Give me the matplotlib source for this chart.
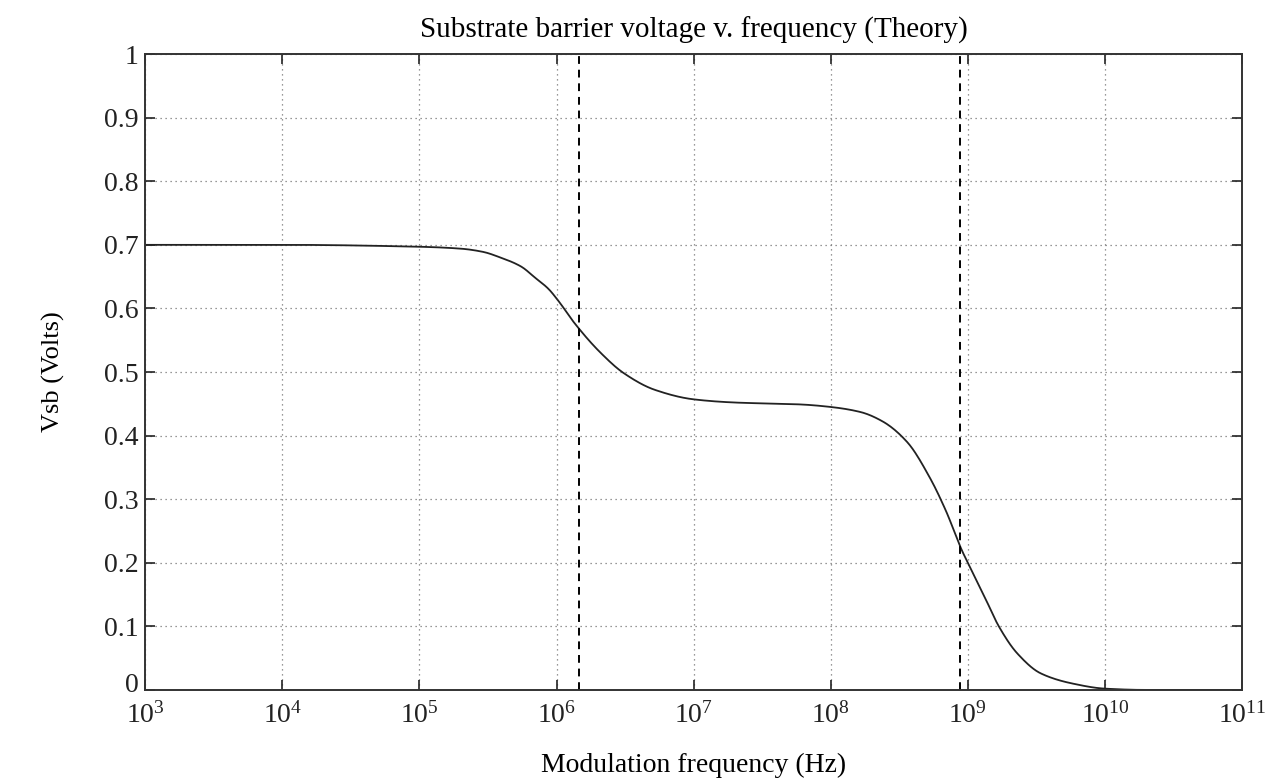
import matplotlib
matplotlib.use("Agg")
import matplotlib.pyplot as plt
import matplotlib.transforms as mtransforms
import numpy as np

plt.rcParams['font.family'] = ['Liberation Serif', 'DejaVu Serif']
plt.rcParams['mathtext.fontset'] = 'custom'
plt.rcParams['mathtext.rm'] = 'Liberation Serif'
plt.rcParams['mathtext.it'] = 'Liberation Serif:italic'

# theoretical Vsb curve (Hz, Volts)
freq = [1e3, 1e4, 1e5, 2e5, 2.9e5, 3.9e5, 5.5e5, 7e5, 8.7e5, 1.03e6, 1.35e6, 2.1e6,
        3.1e6, 5.2e6, 1e7, 2e7, 6e7, 1e8, 1.65e8, 2.4e8, 3.6e8, 5.3e8,
        6.9e8, 9.1e8, 1e9, 1.38e9, 1.68e9, 2.3e9, 3.4e9, 5.8e9, 1e10, 2e10, 1e11]
vsb = [0.700, 0.700, 0.697, 0.694, 0.689, 0.680, 0.666, 0.648, 0.631, 0.612, 0.577, 0.530,
       0.498, 0.472, 0.457, 0.452, 0.449, 0.445, 0.437, 0.422, 0.390, 0.333,
       0.282, 0.218, 0.200, 0.138, 0.100, 0.057, 0.026, 0.010, 0.002, 0.0, 0.0]

# corner frequencies marked with dashed lines
f_corner = [1.45e6, 8.7e8]

yticks = [0, 0.1, 0.2, 0.3, 0.4, 0.5, 0.6, 0.7, 0.8, 0.9, 1]
ytick_labels = ['0', '0.1', '0.2', '0.3', '0.4', '0.5', '0.6', '0.7', '0.8', '0.9', '1']
decades = [3, 4, 5, 6, 7, 8, 9, 10, 11]


def monotone_cubic(x, y, xn):
    # Fritsch-Carlson monotone Hermite spline
    x = np.asarray(x, float)
    y = np.asarray(y, float)
    h = np.diff(x)
    d = np.diff(y) / h
    m = np.zeros_like(y)
    m[0], m[-1] = d[0], d[-1]
    for i in range(1, len(x) - 1):
        if d[i - 1] * d[i] > 0:
            w1 = 2 * h[i] + h[i - 1]
            w2 = h[i] + 2 * h[i - 1]
            m[i] = (w1 + w2) / (w1 / d[i - 1] + w2 / d[i])
    k = np.clip(np.searchsorted(x, xn) - 1, 0, len(x) - 2)
    t = (xn - x[k]) / h[k]
    h00 = 2 * t**3 - 3 * t**2 + 1
    h10 = t**3 - 2 * t**2 + t
    h01 = -2 * t**3 + 3 * t**2
    h11 = t**3 - t**2
    return h00 * y[k] + h10 * h[k] * m[k] + h01 * y[k + 1] + h11 * h[k] * m[k + 1]


fig = plt.figure(figsize=(12.74, 7.84), dpi=100)
ax = fig.add_axes([0.114, 0.12, 0.861, 0.811])

lf = np.log10(freq)
lx = np.linspace(lf[0], lf[-1], 800)
ax.plot(10 ** lx, monotone_cubic(lf, vsb, lx), color='#222222', lw=1.3)

for f in f_corner:
    ax.axvline(f, color='black', ls=(0, (4, 3)), lw=1.4)

ax.set_xscale('log')
ax.set_xlim(1e3, 1e11)
ax.set_ylim(0, 1)
ax.set_xticks([10.0 ** d for d in decades])
ax.set_xticklabels(['10$^{%d}$' % d for d in decades])
ax.minorticks_off()
ax.set_yticks(yticks)
ax.set_yticklabels(ytick_labels)

ax.grid(True, color='#777777', ls=(0, (1, 3)), lw=0.9)
ax.tick_params(direction='in', length=7, width=1.2, top=True, right=True,
               labelsize=20, colors='#222222')
ax.tick_params(axis='x', pad=9)
ax.tick_params(axis='y', pad=5)
for s in ax.spines.values():
    s.set_linewidth(1.4)
    s.set_color('#333333')

# lift the "0" label a little so it clears the 10^3 below it
lift = mtransforms.ScaledTranslation(0, 5 / 72, fig.dpi_scale_trans)
zero_lbl = ax.get_yticklabels()[0]
zero_lbl.set_transform(zero_lbl.get_transform() + lift)

ax.set_title('Substrate barrier voltage v. frequency (Theory)', fontsize=21, pad=12)
ax.set_xlabel('Modulation frequency (Hz)', fontsize=20, labelpad=17)
ax.set_ylabel('Vsb (Volts)', fontsize=19, labelpad=28)

fig.savefig('out.png', dpi=100)
